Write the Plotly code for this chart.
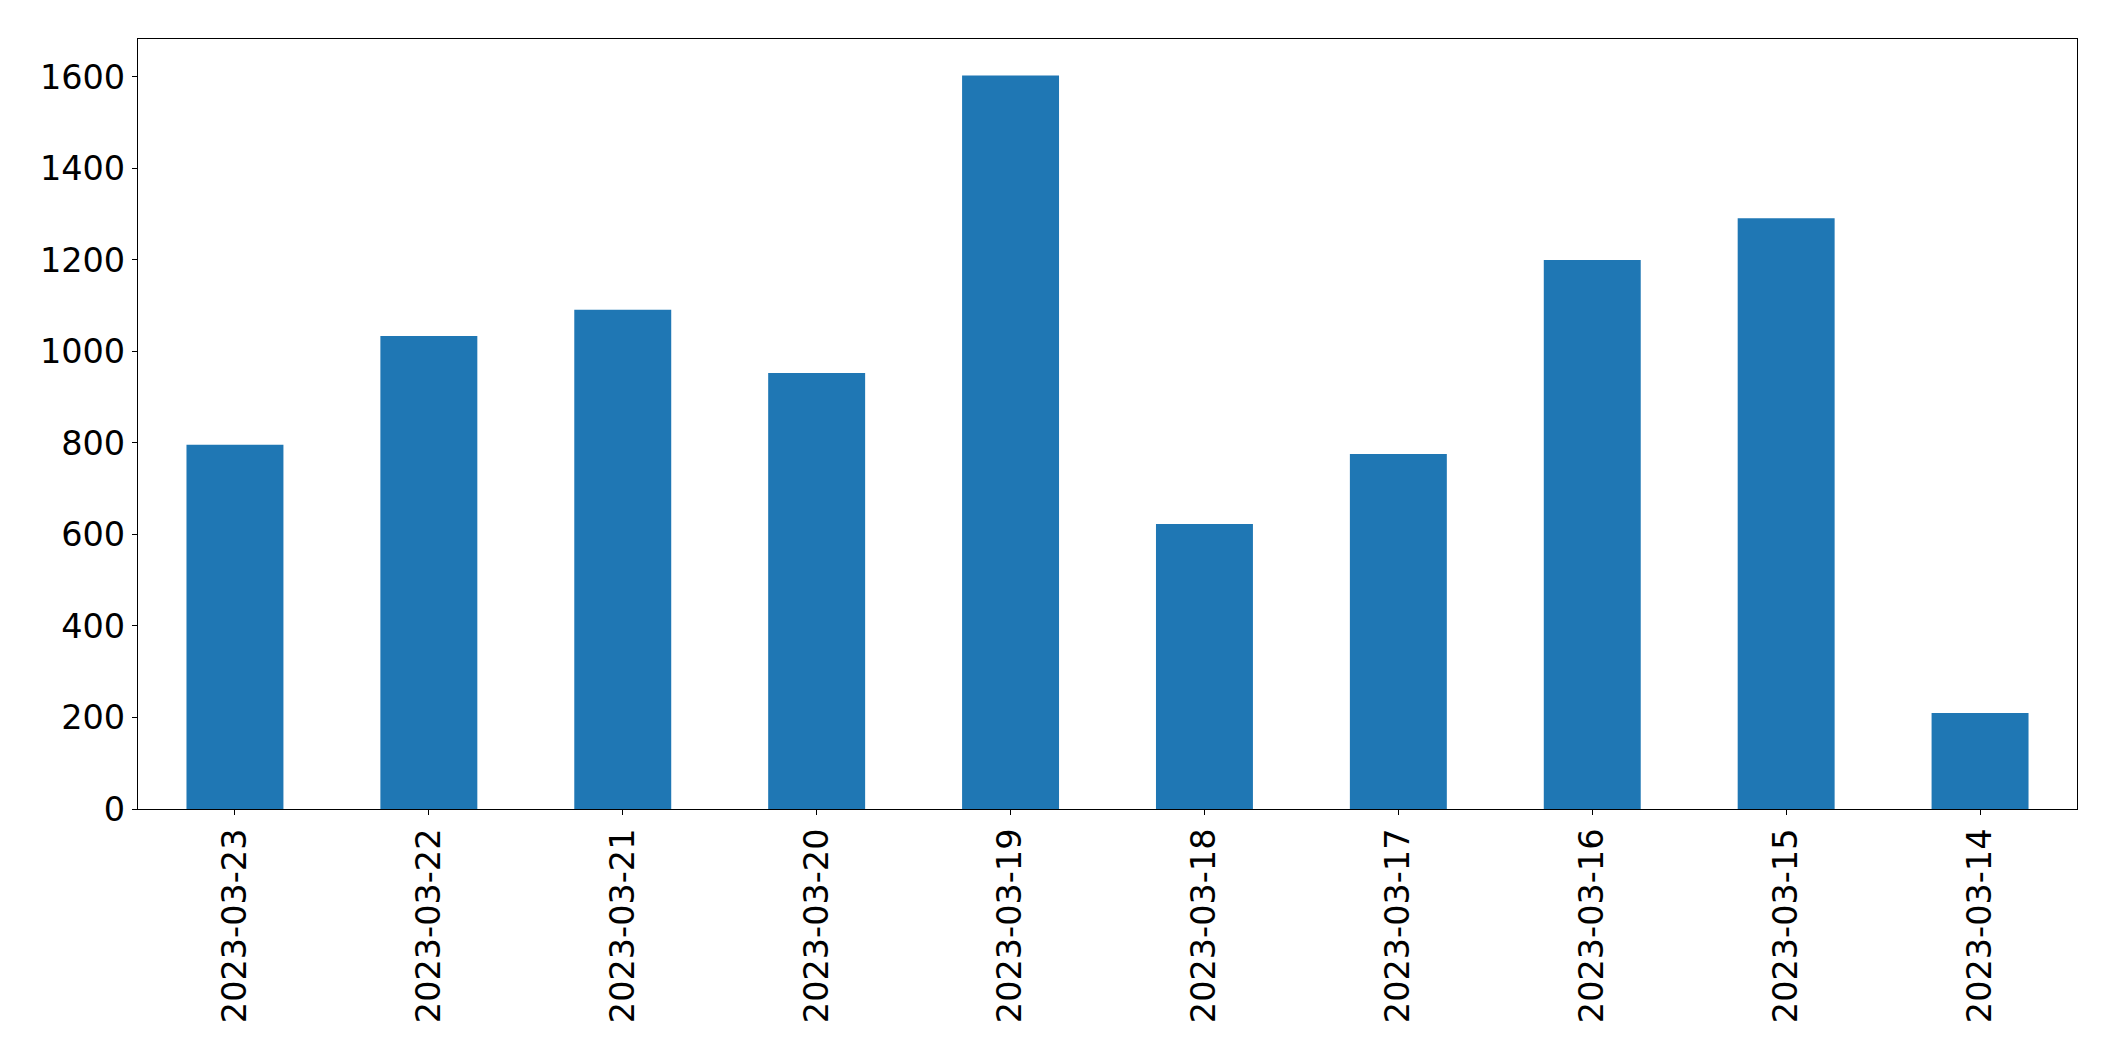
import plotly.graph_objects as go

dates = ["2023-03-23", "2023-03-22", "2023-03-21", "2023-03-20", "2023-03-19",
         "2023-03-18", "2023-03-17", "2023-03-16", "2023-03-15", "2023-03-14"]
counts = [796, 1034, 1091, 953, 1603, 623, 776, 1200, 1291, 210]
y_ticks = [0, 200, 400, 600, 800, 1000, 1200, 1400, 1600]

fig = go.Figure(go.Bar(x=dates, y=counts, marker=dict(color="#1f77b4", line=dict(width=0))))

font = dict(family="DejaVu Sans", size=33.5, color="black")
fig.update_layout(
    width=2107, height=1053,
    margin=dict(l=130, r=38, t=31, b=252),
    paper_bgcolor="white", plot_bgcolor="white",
    bargap=0.5, showlegend=False,
    font=font,
)
fig.update_xaxes(
    type="category", range=[-0.5, 9.5], tickangle=-90,
    showline=True, mirror=True, linecolor="black", linewidth=1.2,
    ticks="outside", ticklen=5, tickwidth=1.2, tickcolor="black",
    showgrid=False, zeroline=False, tickfont=font,
)
fig.update_yaxes(
    range=[0, 1683], tickvals=y_ticks,
    showline=True, mirror=True, linecolor="black", linewidth=1.2,
    ticks="outside", ticklen=5, tickwidth=1.2, tickcolor="black",
    showgrid=False, zeroline=False, tickfont=font,
)
fig.write_html("out.html")
